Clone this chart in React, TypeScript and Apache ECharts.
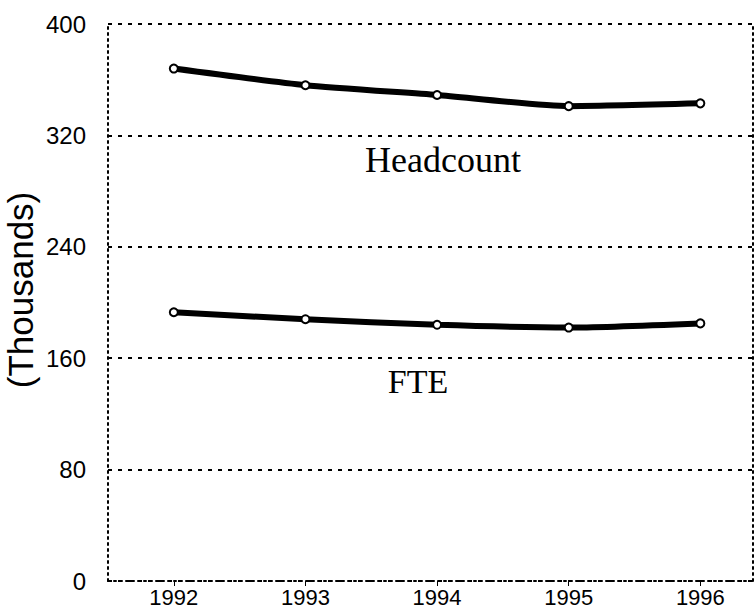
import React, { useEffect, useRef } from "react";
import * as echarts from "echarts";

const years = [1992, 1993, 1994, 1995, 1996];
const headcount = [368, 356, 349, 341, 343];
const fte = [193, 188, 184, 182, 185];
const yTicks = [0, 80, 160, 240, 320, 400];
const seriesNames = ["Headcount", "FTE"];
const yAxisTitle = "(Thousands)";

export default function App() {
  const ref = useRef<HTMLDivElement>(null);
  useEffect(() => {
    if (!ref.current) return;
    const chart = echarts.init(ref.current, null, { renderer: "svg" });
    const dotted = { color: "#000", width: 2, type: [2, 4] as any };
    const option: any = {
      animation: false,
      backgroundColor: "#fff",
      grid: {
        left: 108,
        right: 2,
        top: 24,
        bottom: 29,
        containLabel: false,
        outerBoundsMode: "none",
      },
      xAxis: [
        {
          type: "value",
          min: 1991.5,
          max: 1996.4,
          axisLine: { show: true, lineStyle: dotted },
          axisTick: { show: true, customValues: years, length: 5, lineStyle: { color: "#000", width: 1 } },
          axisLabel: {
            customValues: years,
            margin: 6,
            color: "#000",
            fontSize: 22,
            lineHeight: 21,
            fontFamily: "Liberation Sans, Arial, sans-serif",
            formatter: (v: number) => String(Math.round(v)),
          },
          splitLine: { show: false },
        },
      ],
      yAxis: [
        {
          type: "value",
          min: yTicks[0],
          max: yTicks[yTicks.length - 1],
          interval: 80,
          axisLine: { show: true, lineStyle: dotted },
          axisTick: { show: false },
          axisLabel: {
            margin: 22,
            color: "#000",
            fontSize: 24,
            fontFamily: "Liberation Sans, Arial, sans-serif",
          },
          splitLine: { show: true, lineStyle: { color: "#000", width: 2, type: [4, 6] } },
        },
        {
          type: "value",
          position: "right",
          min: yTicks[0],
          max: yTicks[yTicks.length - 1],
          interval: 80,
          axisLine: { show: true, lineStyle: dotted },
          axisTick: { show: false },
          axisLabel: { show: false },
          splitLine: { show: false },
        },
      ],
      series: [
        {
          name: seriesNames[0],
          type: "line",
          data: years.map((y, i) => [y, headcount[i]]),
          smooth: 0.2,
          symbol: "emptyCircle",
          symbolSize: 8,
          lineStyle: { color: "#000", width: 6 },
          itemStyle: { color: "#000", borderColor: "#000", borderWidth: 2 },
        },
        {
          name: seriesNames[1],
          type: "line",
          data: years.map((y, i) => [y, fte[i]]),
          smooth: 0.2,
          symbol: "emptyCircle",
          symbolSize: 8,
          lineStyle: { color: "#000", width: 6 },
          itemStyle: { color: "#000", borderColor: "#000", borderWidth: 2 },
        },
      ],
      graphic: [
        {
          type: "text",
          x: 20,
          y: 290,
          rotation: Math.PI / 2,
          style: {
            text: yAxisTitle,
            fill: "#000",
            fontSize: 35,
            fontFamily: "Liberation Sans, Arial, sans-serif",
            align: "center",
            verticalAlign: "middle",
          },
        },
        {
          type: "text",
          x: 443,
          y: 160,
          style: {
            text: seriesNames[0],
            fill: "#000",
            fontSize: 36,
            fontFamily: "Liberation Serif, Times New Roman, serif",
            align: "center",
            verticalAlign: "middle",
          },
        },
        {
          type: "text",
          x: 418,
          y: 381,
          style: {
            text: seriesNames[1],
            fill: "#000",
            fontSize: 34,
            fontFamily: "Liberation Serif, Times New Roman, serif",
            align: "center",
            verticalAlign: "middle",
          },
        },
      ],
    };
    chart.setOption(option);
    return () => chart.dispose();
  }, []);
  return (
    <div
      ref={ref}
      style={{ position: "absolute", left: 0, top: 0, width: 755, height: 610 }}
    />
  );
}
